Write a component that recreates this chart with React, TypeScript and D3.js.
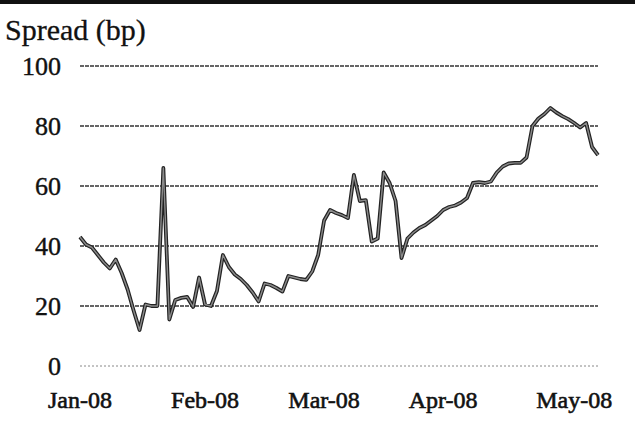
import React, { useEffect, useRef } from "react";
import * as d3 from "d3";

// Spread in basis points, one value per trading day (Jan 2 2008 .. May 7 2008)
const spreadValues: number[] = [
  43, 40.5, 39.5, 37, 34.5, 32.5, 35.5, 31, 25.5, 18.5,
  12, 20.5, 20, 20, 66, 15.5, 22, 22.7, 23, 19.7,
  29.5, 20.5, 20, 25, 37, 33, 30.5, 29, 27, 24.5,
  21.5, 27.5, 27, 26, 24.8, 30, 29.5, 29, 28.7, 31.5,
  37, 48.5, 52, 51, 50.3, 49.3, 63.7, 55, 55.3, 41.5,
  42.5, 64.5, 61, 55, 36, 42.5, 44.5, 46, 47, 48.5,
  50, 52, 53, 53.5, 54.5, 56, 61, 61.3, 61, 61.5,
  64.5, 66.5, 67.5, 67.7, 67.7, 69.5, 80, 82.5, 84, 86,
  84.5, 83.3, 82.3, 81, 79.5, 81, 73, 70.3,
];

// Month labels and the trading-day index where each month starts
const monthLabels: string[] = ["Jan-08", "Feb-08", "Mar-08", "Apr-08", "May-08"];
const monthStartIndex: number[] = [0, 21, 41, 61, 83];

const yTicks: number[] = [0, 20, 40, 60, 80, 100];
const yTitle = "Spread (bp)";

const W = 635;
const H = 425;
const left = 80;
const right = 598;
const top = 66;
const bottom = 366;
const FONT = "'Liberation Serif', 'Times New Roman', serif";

export default function App() {
  const ref = useRef<SVGSVGElement>(null);

  useEffect(() => {
    const svg = d3.select(ref.current);
    svg.selectAll("*").remove();

    const x = d3.scaleLinear().domain([0, spreadValues.length - 1]).range([left, right]);
    const y = d3.scaleLinear().domain([0, 100]).range([bottom, top]);

    svg.append("rect").attr("x", 0).attr("y", 0).attr("width", W).attr("height", H).attr("fill", "#fff");

    // top rule
    svg.append("rect").attr("x", 0).attr("y", 0).attr("width", W).attr("height", 4).attr("fill", "#111");

    // title
    svg.append("text")
      .attr("x", 5)
      .attr("y", 40)
      .attr("font-family", FONT)
      .attr("font-size", 30)
      .attr("fill", "#111")
      .attr("stroke", "#111")
      .attr("stroke-width", 0.3)
      .text(yTitle);

    // gridlines
    svg.append("g")
      .selectAll("line")
      .data(yTicks)
      .join("line")
      .attr("x1", left)
      .attr("x2", right)
      .attr("y1", (d) => y(d))
      .attr("y2", (d) => y(d))
      .attr("stroke", (d) => (d === 0 ? "#888" : "#333"))
      .attr("stroke-width", (d) => (d === 0 ? 1 : 1.4))
      .attr("stroke-dasharray", (d) => (d === 0 ? "2,2" : "4,1"));

    // y tick labels
    svg.append("g")
      .selectAll("text")
      .data(yTicks)
      .join("text")
      .attr("x", 61)
      .attr("y", (d) => y(d))
      .attr("dy", "0.35em")
      .attr("text-anchor", "end")
      .attr("font-family", FONT)
      .attr("font-size", 26)
      .attr("fill", "#111")
      .attr("stroke", "#111")
      .attr("stroke-width", 0.4)
      .text((d) => String(d));

    // x labels
    svg.append("g")
      .selectAll("text")
      .data(monthLabels)
      .join("text")
      .attr("x", (_d, i) => x(monthStartIndex[i]))
      .attr("y", 408)
      .attr("text-anchor", "middle")
      .attr("font-family", FONT)
      .attr("font-size", 24)
      .attr("fill", "#111")
      .attr("stroke", "#111")
      .attr("stroke-width", 0.6)
      .text((d) => d);

    const line = d3
      .line<number>()
      .x((_d, i) => x(i))
      .y((d) => y(d));

    svg.append("path")
      .datum(spreadValues)
      .attr("d", line)
      .attr("fill", "none")
      .attr("stroke", "#222")
      .attr("stroke-width", 3.8)
      .attr("stroke-linejoin", "round");

    svg.append("path")
      .datum(spreadValues)
      .attr("d", line)
      .attr("fill", "none")
      .attr("stroke", "#8a8a8a")
      .attr("stroke-width", 1.4)
      .attr("stroke-linejoin", "round");
  }, []);

  return (
    <svg
      ref={ref}
      width={W}
      height={H}
      style={{ position: "absolute", left: 0, top: 0, display: "block" }}
    />
  );
}
